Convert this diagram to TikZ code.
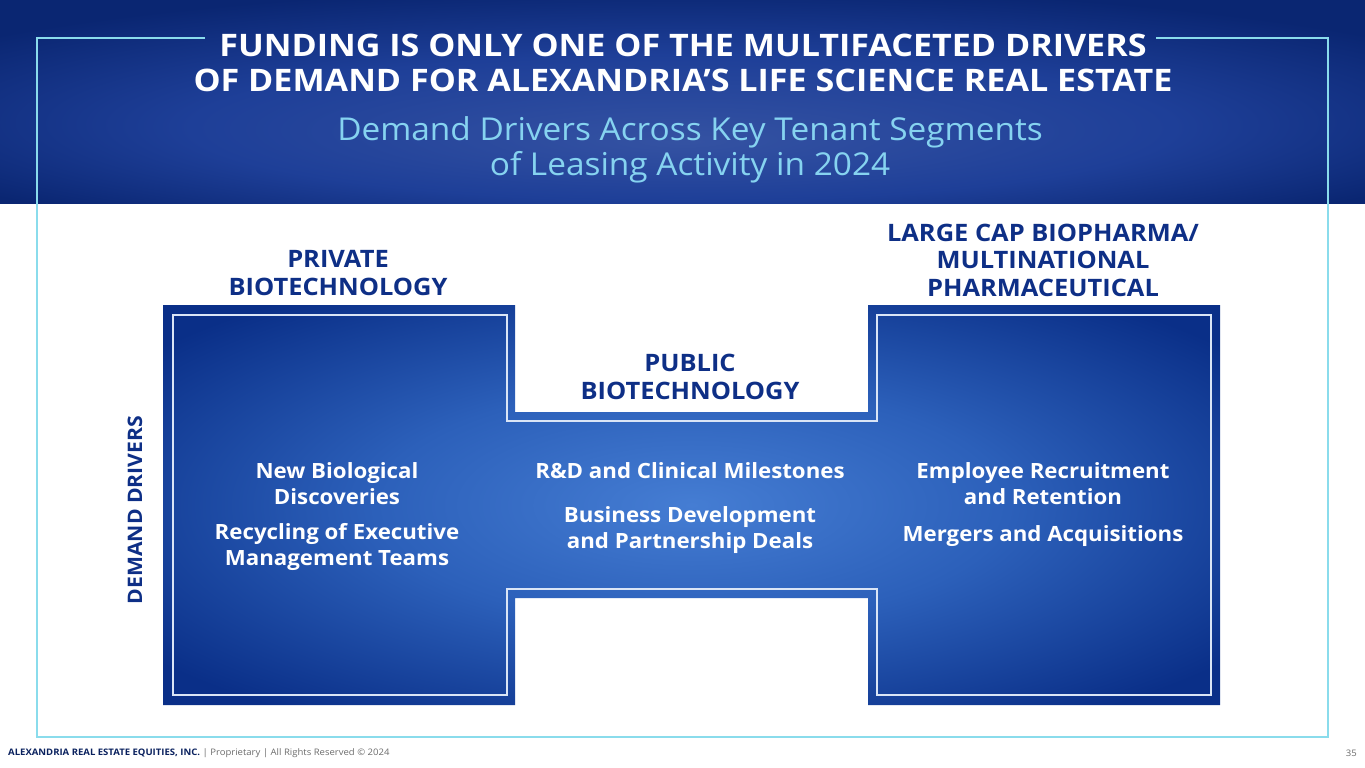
\documentclass[tikz,border=0pt]{standalone}
\usepackage{fontspec}
\setmainfont{Open Sans}[FakeStretch=1.06]
\newfontfamily\headfont{Open Sans}[FakeStretch=1.1]
\usepackage{tikz}
\usetikzlibrary{positioning}

\definecolor{headerdark}{HTML}{0A2672}
\definecolor{headermid}{HTML}{1E3F98}
\definecolor{framecyan}{HTML}{8ADCEC}
\definecolor{subcyan}{HTML}{86D3F0}
\definecolor{segblue}{HTML}{0E2F86}
\definecolor{shapeouter}{HTML}{0A2F88}
\definecolor{shapemid}{HTML}{2C60BA}
\definecolor{shapeinner}{HTML}{457DD3}
\definecolor{footgray}{HTML}{6B6B6B}

\pgfdeclareradialshading{panelglow}{\pgfpoint{0bp}{0bp}}{%
  color(0bp)=(shapeinner); color(15bp)=(shapemid); color(32bp)=(shapeouter); color(50bp)=(shapeouter)}
\pgfdeclareradialshading{headerglow}{\pgfpoint{0bp}{-10bp}}{%
  color(0bp)=(headermid!90!white); color(18bp)=(headermid); color(32bp)=(headerdark); color(50bp)=(headerdark)}

\begin{document}
\begin{tikzpicture}[
    x=1pt, y=-1pt,
    node distance=6pt and 10pt,
    titletext/.style={font=\headfont\fontsize{31}{35}\selectfont\bfseries, text=white, align=center},
    subtitletext/.style={font=\fontsize{31.5}{35}\selectfont, text=subcyan, align=center},
    seglabel/.style={font=\fontsize{24}{27.5}\selectfont\bfseries, text=segblue, align=center},
    driver/.style={font=\fontsize{21}{26}\selectfont\bfseries, text=white, align=center},
    frameline/.style={draw=framecyan, line width=2pt},
    innerline/.style={draw=white!80!shapeinner, line width=2pt},
    foottext/.style={font=\fontsize{9}{11}\selectfont, text=footgray, anchor=west, inner sep=0pt}
]
\useasboundingbox (0,0) rectangle (1365,768);

% Header band
\shade[shading=headerglow] (0,0) rectangle (1365,203);

% Outer frame, open where the title sits
\draw[frameline] (205,38) -- (37,38) -- (37,737) -- (1328,737) -- (1328,38) -- (1156,38);

% Titles
\node[titletext] (title) at (683,63) {FUNDING IS ONLY ONE OF THE MULTIFACETED DRIVERS\\OF DEMAND FOR ALEXANDRIA’S LIFE SCIENCE REAL ESTATE};
\node[subtitletext] (subtitle) at (690,150) {Demand Drivers Across Key Tenant Segments\\of Leasing Activity in 2024};

% H-shaped segment panel
\shade[shading=panelglow]
    (163,305) -- (515,305) -- (515,412) -- (868,412) -- (868,305) -- (1220,305)
    -- (1220,705) -- (868,705) -- (868,598) -- (515,598) -- (515,705) -- (163,705) -- cycle;
\draw[innerline]
    (173,315) -- (507,315) -- (507,421) -- (877,421) -- (877,315) -- (1211,315)
    -- (1211,695) -- (877,695) -- (877,589) -- (507,589) -- (507,695) -- (173,695) -- cycle;

% Segment labels
\node[seglabel] (private) at (338,273) {PRIVATE\\BIOTECHNOLOGY};
\node[seglabel] (public) at (690,377) {PUBLIC\\BIOTECHNOLOGY};
\node[seglabel] (largecap) at (1043,260) {LARGE CAP BIOPHARMA/\\MULTINATIONAL\\PHARMACEUTICAL};

\node[seglabel, font=\fontsize{20}{24}\selectfont\bfseries, rotate=90] (demand) at (135,510) {DEMAND DRIVERS};

% Drivers per segment
\node[driver] (newbio) at (337,484) {New Biological\\Discoveries};
\node[driver] (recycle) at (337,547) {Recycling of Executive\\Management Teams};

\node[driver] (milestones) at (690,471) {R\&D and Clinical Milestones};
\node[driver] (bizdev) at (690,530) {Business Development\\and Partnership Deals};

\node[driver] (recruit) at (1043,484) {Employee Recruitment\\and Retention};
\node[driver, below=13pt of recruit] (mergers) {Mergers and Acquisitions};

% Footer
\node[foottext] (footer) at (8,753) {{\bfseries\color{segblue!70!black}ALEXANDRIA REAL ESTATE EQUITIES, INC.} | Proprietary | All Rights Reserved © 2024};
\node[foottext, anchor=east] (pagenum) at (1357,753) {35};

\end{tikzpicture}
\end{document}
